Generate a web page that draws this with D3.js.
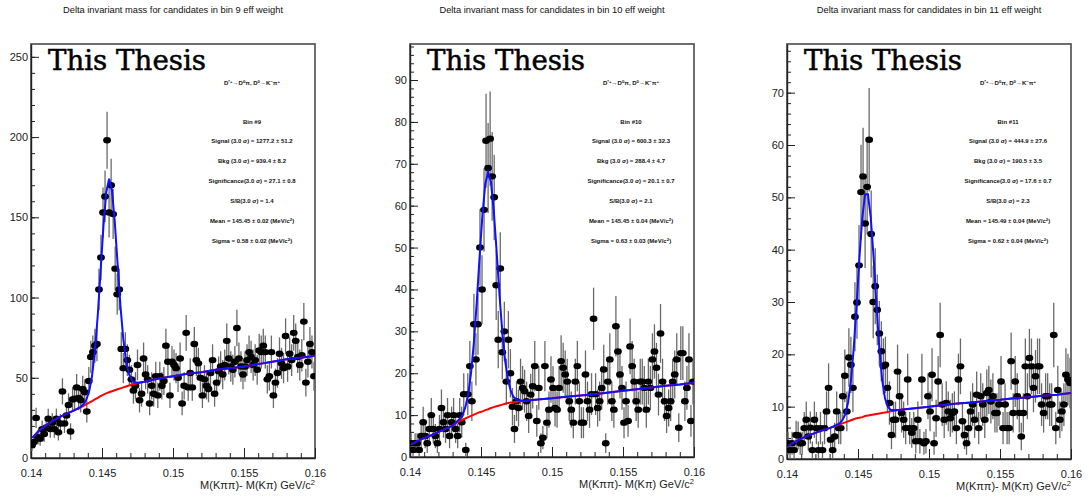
<!DOCTYPE html>
<html>
<head>
<meta charset="utf-8">
<script src="https://cdn.jsdelivr.net/npm/d3@7"></script>
<style>
  body { margin: 0; background: #fff; }
  svg { display: block; }
</style>
</head>
<body>
<div id="chart"></div>
<script>
// Delta invariant mass, three efficiency-weighted bins

const xLow = 0.14, xHigh = 0.16;
const xMajor = [0.14, 0.145, 0.15, 0.155, 0.16];
const xMinorStep = 0.001;

const titles = [
  'Delta invariant mass for candidates in bin 9 eff weight',
  'Delta invariant mass for candidates in bin 10 eff weight',
  'Delta invariant mass for candidates in bin 11 eff weight'
];
const xTitle = 'M(Kππ)- M(Kπ) GeV/c';
const watermark = 'This Thesis';

// histogram contents, 140 bins over 0.14-0.16
const counts9 = [
  8, 10, 25, 13, 12, 18, 15, 19, 24.5, 18,
  22, 18, 24.5, 16, 21.5, 41.5, 21.5, 26.5, 33, 16.5,
  36.5, 37, 44, 37.5, 36, 43, 41, 29, 48, 63,
  66, 70, 71, 105, 125, 153, 163, 198, 153, 170,
  152, 118, 102, 105, 68, 56, 68, 61, 55, 49,
  42, 45, 58, 36, 40, 62, 52, 49, 34, 45,
  40, 51, 39, 51, 45, 48, 70, 60, 39, 60,
  58, 56, 50, 62, 34, 45, 78, 44, 53, 44,
  71, 61, 59, 50, 39, 49, 45, 43, 53, 61,
  40, 47, 54, 57, 52, 58, 73, 62, 57, 55,
  60, 81, 62, 57, 52, 57, 61, 66, 63, 58,
  61, 55, 67, 66, 70, 66, 49, 51, 66, 39,
  47, 53, 65, 59, 56, 76, 57, 65, 61, 78,
  73, 63, 58, 64, 85, 47, 60, 71, 66, 51
];
const counts10 = [
  3.3, 1.7, 3.3, 3.3, 1.7, 5, 8.3, 5, 3.3, 6.7,
  10, 6.7, 5, 3.3, 6.7, 11.7, 8.3, 6.7, 10, 5,
  8.3, 10, 6.7, 5, 10, 8.3, 15, 1.7, 15, 21.7,
  13.3, 31.7, 23.3, 31.7, 50, 40, 59, 75.5, 69, 76,
  67, 62, 41, 28, 45, 25, 30, 18, 28, 20,
  12, 6.7, 13.3, 11.7, 18, 16.5, 15.7, 13.3, 9.8, 14.9,
  16.9, 21.7, 8.6, 16.5, 3.3, 4.6, 21.7, 8.2, 11.3, 18.5,
  16.5, 11.7, 11.3, 16.5, 22.9, 21.3, 19.7, 18, 13.3, 11.3,
  8.2, 18, 21.7, 13.3, 8.2, 8.2, 19.7, 13.3, 11.3, 15,
  33, 15, 11.7, 13.3, 16.5, 20.9, 3.3, 18, 23.3, 13.3,
  11.3, 31.2, 25.2, 19.7, 16.5, 8.2, 13.3, 8.6, 26.4, 21.7,
  18, 13.3, 11.3, 18, 18, 16.5, 11.3, 18, 16.5, 23.3,
  25.2, 21.3, 14.9, 29.5, 18, 13.3, 9.8, 11.7, 13.3, 18,
  19.7, 23.3, 7, 24.8, 24.8, 13.3, 16.5, 23.3, 8.6, 18
];
const counts11 = [
  3, 1.7, 3, 1.7, 4.6, 4.5, 3, 3, 5.9, 7.5,
  4.3, 6, 1.7, 7.5, 5.9, 1.7, 5.9, 1.7, 5.9, 9.1,
  13.6, 3.7, 1.7, 4.3, 9.1, 5.9, 5.9, 12, 15.9, 9.1,
  19.4, 18, 13.6, 27.2, 29.9, 37, 51, 54, 45, 52,
  61, 43, 30, 33, 28.5, 24, 20.6, 17.7, 18, 13.6,
  10.7, 4.6, 7.5, 7.5, 16.7, 12, 8.8, 7.5, 5.9, 15.2,
  5.9, 5, 5.9, 3.4, 7.5, 3.4, 15.2, 3, 3.4, 12,
  9.1, 16.1, 3, 7.8, 14.8, 23.7, 10.4, 7.5, 10.7, 9.1,
  7.8, 8.8, 9.1, 5.9, 15.2, 17.7, 7.2, 4.6, 3, 5.9,
  9.1, 10.4, 7.5, 12.3, 5.9, 12, 10.4, 7.5, 12.6, 13.2,
  11, 12, 8.8, 8.8, 10.4, 14.8, 5.9, 10.4, 5.9, 5.9,
  18.7, 8.8, 14.8, 12, 8.8, 4.3, 8.8, 17.7, 12, 19.3,
  17.7, 13.6, 15.8, 17.7, 17.7, 10.4, 8.8, 12, 12, 10.4,
  10.4, 23.7, 5.9, 13.2, 7.5, 9.1, 10.4, 16.1, 15.2, 14.5
];

// fit curve vertices (x in GeV/c^2) and the y read for each curve
const curveX = [
  0.1401, 0.1405, 0.1410, 0.1415, 0.1420, 0.1425, 0.1430,
  0.1435, 0.1437, 0.1439, 0.1441, 0.1443, 0.1445, 0.1447, 0.1449, 0.1451, 0.1453,
  0.1455, 0.1457, 0.1459, 0.1461, 0.1463, 0.1465, 0.1467, 0.1469, 0.1471, 0.1473, 0.1475,
  0.1480, 0.1490, 0.1500, 0.1510, 0.1520, 0.1530, 0.1540, 0.1550, 0.1560, 0.1570, 0.1580, 0.1590, 0.1600
];
const bkg9 = [
  12.5, 16.5, 20, 23, 25.5, 27.5, 29.5,
  31.5, 32.5, 33.5, 34.5, 35.5, 36.5, 37.5, 38.5, 39.5, 40.3,
  41, 41.6, 42.2, 42.8, 43.4, 44, 44.6, 45.2, 45.7, 46.1, 46.5,
  47.5, 49.5, 51, 52.5, 53.5, 55, 56, 57, 58.5, 60, 61.5, 62.5, 63.7
];
const fit9 = [
  12.5, 16.5, 20, 23, 25.5, 27.5, 29.5,
  31.9, 33.6, 36.4, 41.7, 51.2, 66.6, 88.8, 116.4, 144.3, 165.6,
  174, 166.9, 147, 120.7, 94.7, 74.1, 60.3, 52.4, 48.6, 47.2, 46.9,
  47.5, 49.5, 51, 52.5, 53.5, 55, 56, 57, 58.5, 60, 61.5, 62.5, 63.7
];
const bkg10 = [
  3, 3.8, 4.5, 5.2, 6, 6.7, 7.5,
  8.6, 8.9, 9.2, 9.5, 9.8, 10.1, 10.4, 10.7, 10.9, 11.2,
  11.4, 11.7, 11.9, 12.1, 12.3, 12.5, 12.7, 12.9, 13.0, 13.1, 13.2,
  13.4, 13.7, 14.0, 14.4, 14.7, 15.0, 15.4, 15.8, 16.2, 16.6, 17.0, 17.3, 17.7
];
const fit10 = [
  3, 3.8, 4.5, 5.2, 6, 6.7, 7.5,
  9.1, 10.1, 11.9, 15, 20.1, 27.4, 36.9, 47.7, 57.7, 65.2,
  68, 65.7, 58.7, 49.1, 38.8, 29.8, 23, 18.4, 15.7, 14.3, 13.7,
  13.4, 13.7, 14.0, 14.4, 14.7, 15.0, 15.4, 15.8, 16.2, 16.6, 17.0, 17.3, 17.7
];
const bkg11 = [
  2.5, 3.2, 3.9, 4.5, 5.0, 5.5, 5.9,
  6.4, 6.6, 6.8, 7.0, 7.2, 7.4, 7.6, 7.8, 7.9, 8.0,
  8.2, 8.3, 8.4, 8.5, 8.6, 8.7, 8.8, 8.9, 9.0, 9.1, 9.2,
  9.4, 9.7, 10.0, 10.3, 10.6, 10.8, 11.1, 11.3, 11.6, 11.8, 12.1, 12.3, 12.6
];
const fit11 = [
  2.5, 3.2, 3.9, 4.5, 5.0, 5.5, 5.9,
  6.5, 6.8, 7.4, 8.5, 10.8, 14.9, 21.2, 29.4, 38.4, 46.1,
  50.6, 50.6, 46.1, 38.5, 29.5, 21.3, 15.1, 11.6, 10.0, 9.4, 9.3,
  9.4, 9.7, 10.0, 10.3, 10.6, 10.8, 11.1, 11.3, 11.6, 11.8, 12.1, 12.3, 12.6
];

// fit summary text
const stats9 = ['Bin #9', 'Signal (3.0 σ) =  1277.2 ± 51.2', 'Bkg (3.0 σ) =  939.4 ± 8.2',
  'Significance(3.0 σ) =  27.1 ± 0.8', 'S/B(3.0 σ) =  1.4', 'Mean = 145.45 ± 0.02 (MeV/c', 'Sigma = 0.58 ± 0.02 (MeV/c'];
const stats10 = ['Bin #10', 'Signal (3.0 σ) =  600.3 ± 32.3', 'Bkg (3.0 σ) =  288.4 ± 4.7',
  'Significance(3.0 σ) =  20.1 ± 0.7', 'S/B(3.0 σ) =  2.1', 'Mean = 145.45 ± 0.04 (MeV/c', 'Sigma = 0.63 ± 0.03 (MeV/c'];
const stats11 = ['Bin #11', 'Signal (3.0 σ) =  444.9 ± 27.6', 'Bkg (3.0 σ) =  190.5 ± 3.5',
  'Significance(3.0 σ) =  17.6 ± 0.7', 'S/B(3.0 σ) =  2.3', 'Mean = 145.49 ± 0.04 (MeV/c', 'Sigma = 0.62 ± 0.04 (MeV/c'];

const W = 1089, H = 499;
const SANS = '"Liberation Sans", Arial, sans-serif';
const STAT_FS = 6;

const panels = [
  { title: titles[0], counts: counts9, bkg: bkg9, fit: fit9, stats: stats9, weight: 1.6,
    yMax: 258, yMajor: 50, yMinor: 10, left: 31, right: 315, top: 44, bottom: 458 },
  { title: titles[1], counts: counts10, bkg: bkg10, fit: fit10, stats: stats10, weight: 1.67,
    yMax: 98.6, yMajor: 10, yMinor: 2, left: 410, right: 694, top: 44, bottom: 457 },
  { title: titles[2], counts: counts11, bkg: bkg11, fit: fit11, stats: stats11, weight: 1.6,
    yMax: 79.3, yMajor: 10, yMinor: 2, left: 787, right: 1071, top: 44, bottom: 459 }
];

const svg = d3.select('#chart').append('svg')
  .attr('width', W).attr('height', H)
  .attr('viewBox', `0 0 ${W} ${H}`)
  .style('font-family', SANS);

svg.append('rect').attr('width', W).attr('height', H).attr('fill', '#fff');

panels.forEach((p, pi) => drawPanel(p, pi));

function drawPanel(p, pi) {
  const g = svg.append('g');
  const x = d3.scaleLinear().domain([xLow, xHigh]).range([p.left, p.right]);
  const y = d3.scaleLinear().domain([0, p.yMax]).range([p.bottom, p.top]);
  const cx = (p.left + p.right) / 2;

  // title
  g.append('text')
    .attr('x', cx).attr('y', 12.5)
    .attr('text-anchor', 'middle')
    .style('font-size', '9.3px')
    .attr('fill', '#111')
    .text(p.title);

  // frame
  g.append('rect')
    .attr('x', p.left).attr('y', p.top)
    .attr('width', p.right - p.left).attr('height', p.bottom - p.top)
    .attr('fill', 'none').attr('stroke', '#555').attr('stroke-width', 1.7);

  const clipId = `clip-${pi}`;
  svg.append('clipPath').attr('id', clipId)
    .append('rect')
    .attr('x', p.left).attr('y', p.top)
    .attr('width', p.right - p.left).attr('height', p.bottom - p.top);

  // x axis, ticks pointing into the frame
  const xMinorTicks = d3.range(xLow, xHigh + 1e-9, xMinorStep);
  g.append('g')
    .attr('transform', `translate(0,${p.bottom})`)
    .call(d3.axisBottom(x).tickValues(xMinorTicks).tickSize(-5).tickSizeOuter(0).tickFormat(''))
    .call((a) => a.select('.domain').remove())
    .call((a) => a.selectAll('line').attr('stroke', '#222'));
  g.append('g')
    .attr('transform', `translate(0,${p.bottom})`)
    .call(d3.axisBottom(x).tickValues(xMajor).tickSize(-10).tickSizeOuter(0).tickPadding(11)
      .tickFormat((d) => String(+d.toFixed(3))))
    .call((a) => a.select('.domain').attr('stroke', '#222').attr('stroke-width', 1.4))
    .call((a) => a.selectAll('line').attr('stroke', '#222'))
    .call((a) => a.selectAll('text').style('font-size', '11px').style('font-family', SANS).attr('fill', '#222'));

  // y axis
  const yMinorTicks = d3.range(0, p.yMax, p.yMinor);
  const yMajorTicks = d3.range(0, p.yMax, p.yMajor);
  g.append('g')
    .attr('transform', `translate(${p.left},0)`)
    .call(d3.axisLeft(y).tickValues(yMinorTicks).tickSize(-4).tickSizeOuter(0).tickFormat(''))
    .call((a) => a.select('.domain').remove())
    .call((a) => a.selectAll('line').attr('stroke', '#222'));
  g.append('g')
    .attr('transform', `translate(${p.left},0)`)
    .call(d3.axisLeft(y).tickValues(yMajorTicks).tickSize(-8).tickSizeOuter(0).tickPadding(3))
    .call((a) => a.select('.domain').attr('stroke', '#222').attr('stroke-width', 1.4))
    .call((a) => a.selectAll('line').attr('stroke', '#222'))
    .call((a) => a.selectAll('text').style('font-size', '11px').style('font-family', SANS).attr('fill', '#222'));

  // x-axis title with superscript 2
  const xt = g.append('text')
    .attr('x', p.right).attr('y', p.bottom + 31)
    .attr('text-anchor', 'end')
    .style('font-size', '11px').attr('fill', '#222')
    .text(xTitle);
  xt.append('tspan').style('font-size', '7.5px').attr('dy', -4).text('2');

  // watermark
  g.append('text')
    .attr('x', p.left + 17).attr('y', 70)
    .style('font-family', '"DejaVu Serif", "Liberation Serif", serif')
    .style('font-size', '27px')
    .attr('textLength', 158).attr('lengthAdjust', 'spacingAndGlyphs')
    .attr('fill', '#000').attr('stroke', '#000').attr('stroke-width', 0.5)
    .text(watermark);

  // data
  const n = p.counts.length;
  const bw = (xHigh - xLow) / n;
  const pts = p.counts.map((v, i) => ({ x: xLow + (i + 0.5) * bw, v, e: Math.sqrt(v * p.weight) }));
  const dg = g.append('g').attr('clip-path', `url(#${clipId})`);
  dg.selectAll('line.err').data(pts).join('line')
    .attr('class', 'err')
    .attr('x1', (d) => x(d.x)).attr('x2', (d) => x(d.x))
    .attr('y1', (d) => y(Math.max(0, d.v - d.e))).attr('y2', (d) => y(d.v + d.e))
    .attr('stroke', '#6a6a6a').attr('stroke-width', 1.3);
  dg.selectAll('ellipse').data(pts).join('ellipse')
    .attr('cx', (d) => x(d.x)).attr('cy', (d) => y(d.v))
    .attr('rx', 3.9).attr('ry', 3.2)
    .attr('fill', '#000');

  // fit curves
  const line = d3.line().x((d) => x(d[0])).y((d) => y(d[1]));
  dg.append('path')
    .attr('d', line(curveX.map((cxv, i) => [cxv, p.bkg[i]])))
    .attr('fill', 'none').attr('stroke', '#ff0000').attr('stroke-width', 2);
  dg.append('path')
    .attr('d', line(curveX.map((cxv, i) => [cxv, p.fit[i]])))
    .attr('fill', 'none').attr('stroke', '#1010ff').attr('stroke-width', 2);

  // decay label
  const sx = p.left + 221;
  const dl = g.append('text').attr('x', sx).attr('y', 85)
    .attr('text-anchor', 'middle').style('font-size', STAT_FS + 'px').attr('font-weight', 'bold').attr('fill', '#111');
  const sup = (t) => dl.append('tspan').style('font-size', (STAT_FS * 0.72) + 'px').attr('dy', -2.2).text(t);
  const base = (t) => dl.append('tspan').style('font-size', STAT_FS + 'px').attr('dy', 2.2).text(t);
  dl.append('tspan').text('D');
  sup('*+'); base('→D'); sup('0'); base('π, D'); sup('0'); base('→K'); sup('−'); base('π'); sup('+');

  // fit summary
  p.stats.forEach((s, i) => {
    const t = g.append('text')
      .attr('x', sx).attr('y', i === 0 ? 124 : 143 + (i - 1) * 20)
      .attr('text-anchor', 'middle')
      .style('font-size', STAT_FS + 'px').attr('font-weight', 'bold').attr('fill', '#111')
      .text(s);
    if (s.endsWith('/c')) {
      t.append('tspan').style('font-size', (STAT_FS * 0.72) + 'px').attr('dy', -2.2).text('2');
      t.append('tspan').attr('dy', 2.2).text(')');
    }
  });
}
</script>
</body>
</html>
